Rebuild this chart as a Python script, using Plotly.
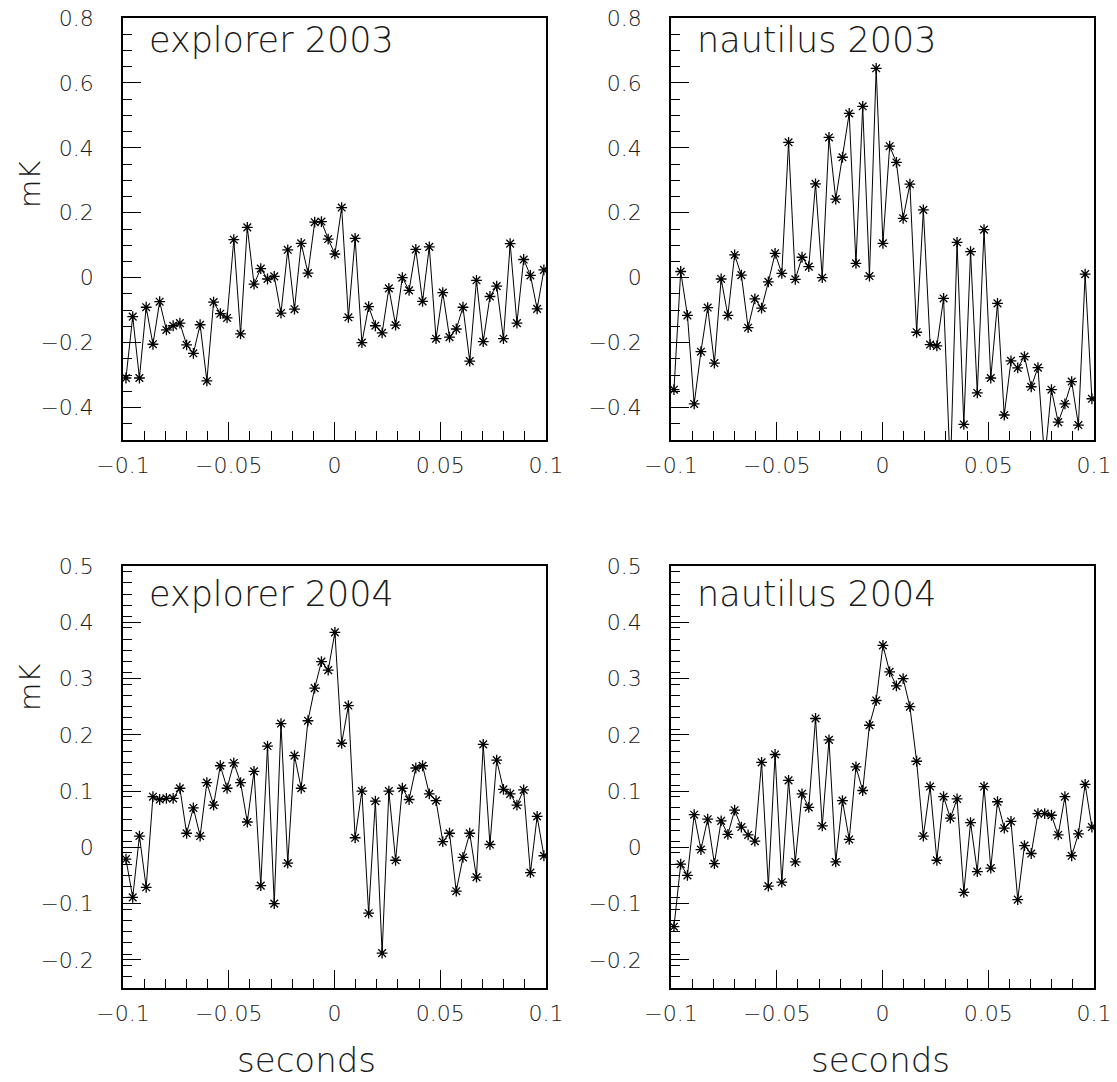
import numpy as np
import plotly.graph_objects as go

# ---- data ----
times = np.round(np.linspace(-0.0986, 0.0990, 63), 5)

explorer_2003 = [-0.309, -0.12, -0.309, -0.091, -0.205, -0.074, -0.161, -0.148, -0.14, -0.207,
                 -0.233, -0.145, -0.318, -0.075, -0.111, -0.124, 0.117, -0.173, 0.155, -0.02,
                 0.028, -0.004, 0.004, -0.109, 0.086, -0.097, 0.106, 0.014, 0.171, 0.173,
                 0.119, 0.073, 0.216, -0.122, 0.121, -0.2, -0.089, -0.148, -0.17, -0.033,
                 -0.146, 0.0, -0.039, 0.087, -0.073, 0.095, -0.188, -0.046, -0.183, -0.158,
                 -0.091, -0.257, -0.008, -0.197, -0.058, -0.026, -0.188, 0.105, -0.14, 0.056,
                 0.007, -0.096, 0.024]

nautilus_2003 = [-0.345, 0.019, -0.116, -0.389, -0.228, -0.092, -0.263, -0.004, -0.116, 0.07,
                 0.008, -0.154, -0.065, -0.094, -0.013, 0.075, 0.013, 0.417, -0.005, 0.063,
                 0.034, 0.289, 0.0, 0.432, 0.242, 0.371, 0.506, 0.044, 0.528, 0.005,
                 0.645, 0.106, 0.405, 0.355, 0.183, 0.288, -0.168, 0.209, -0.206, -0.21,
                 -0.064, -0.6, 0.109, -0.452, 0.08, -0.355, 0.148, -0.309, -0.079, -0.423,
                 -0.256, -0.278, -0.243, -0.336, -0.277, -0.56, -0.345, -0.445, -0.389, -0.32,
                 -0.454, 0.011, -0.373]

explorer_2004 = [-0.021, -0.089, 0.02, -0.071, 0.09, 0.085, 0.087, 0.087, 0.105, 0.025,
                 0.07, 0.02, 0.115, 0.075, 0.145, 0.105, 0.15, 0.115, 0.045, 0.135,
                 -0.068, 0.18, -0.1, 0.22, -0.028, 0.163, 0.105, 0.225, 0.283, 0.33,
                 0.315, 0.382, 0.185, 0.252, 0.017, 0.1, -0.117, 0.082, -0.188, 0.1,
                 -0.023, 0.105, 0.085, 0.141, 0.145, 0.095, 0.083, 0.01, 0.025, -0.078,
                 -0.018, 0.025, -0.053, 0.183, 0.005, 0.155, 0.103, 0.095, 0.075, 0.102,
                 -0.045, 0.055, -0.015]

nautilus_2004 = [-0.141, -0.03, -0.05, 0.058, -0.004, 0.05, -0.029, 0.047, 0.023, 0.066,
                 0.036, 0.022, 0.011, 0.151, -0.069, 0.165, -0.062, 0.119, -0.026, 0.095,
                 0.071, 0.229, 0.038, 0.191, -0.026, 0.083, 0.014, 0.143, 0.101, 0.217,
                 0.261, 0.359, 0.312, 0.287, 0.3, 0.25, 0.153, 0.02, 0.108, -0.023,
                 0.09, 0.052, 0.086, -0.08, 0.044, -0.043, 0.108, -0.037, 0.081, 0.034,
                 0.046, -0.093, 0.003, -0.011, 0.06, 0.06, 0.057, 0.022, 0.09, -0.015,
                 0.024, 0.112, 0.036]

titles = ["explorer 2003", "nautilus 2003", "explorer 2004", "nautilus 2004"]
series = [explorer_2003, nautilus_2003, explorer_2004, nautilus_2004]
x_tick_vals = [-0.1, -0.05, 0, 0.05, 0.1]


def fmt(v):
    if abs(v) < 1e-9:
        return "0"
    return ("\u2212" + f"{abs(v):g}") if v < 0 else f"{v:g}"


# ---- layout geometry ----
W, H = 1117, 1082
x_doms = [[123 / W, 546 / W], [671 / W, 1094 / W]]
y_doms = [[1 - 440 / H, 1 - 18 / H], [1 - 988 / H, 1 - 566 / H]]
y_ranges = [[-0.5, 0.8], [-0.25, 0.5]]
y_major = [0.2, 0.1]
y_minor = [0.05, 0.02]
title_y_px = [40, 594]
mk_y_px = [185, 688]
seconds_x_px = [306, 880]

FONT = "DejaVu Sans"
TXT = "#1a1a1a"
WT = 200

fig = go.Figure()
layout = dict(width=W, height=H, margin=dict(l=0, r=0, t=0, b=0, autoexpand=False),
              paper_bgcolor="white", plot_bgcolor="white", showlegend=False,
              font=dict(family=FONT, color=TXT, size=22, weight=WT))
annotations = []

for i in range(4):
    row, col = divmod(i, 2)
    n = "" if i == 0 else str(i + 1)
    fig.add_trace(go.Scatter(
        x=times, y=series[i], mode="lines+markers", xaxis="x" + n, yaxis="y" + n,
        line=dict(color="black", width=1),
        marker=dict(symbol="asterisk", size=9, color="black",
                    line=dict(color="black", width=1.3)),
        hoverinfo="skip"))
    common = dict(showline=True, linecolor="black", linewidth=1.5, mirror=True,
                  ticks="inside", ticklen=18, tickwidth=1, tickcolor="black",
                  showgrid=False, zeroline=False, automargin=False,
                  tickfont=dict(family=FONT, size=22, color=TXT, weight=WT))
    yr = y_ranges[row]
    ymaj = [float(v) for v in np.round(np.arange(-1.0, 1.0 + 1e-9, y_major[row]), 4)
            if yr[0] - 1e-9 <= v <= yr[1] + 1e-9]
    layout["xaxis" + n] = dict(
        common, domain=x_doms[col], range=[-0.1, 0.1], anchor="y" + n,
        tickmode="array", tickvals=x_tick_vals,
        ticktext=[fmt(v) for v in x_tick_vals],
        ticklabelstandoff=5,
        minor=dict(ticks="inside", ticklen=9, tickwidth=1, tickcolor="black",
                   tickmode="linear", tick0=-0.1, dtick=0.01, showgrid=False))
    layout["yaxis" + n] = dict(
        common, domain=y_doms[row], range=yr, anchor="x" + n,
        tickmode="array", tickvals=ymaj,
        ticktext=[fmt(v) for v in ymaj],
        ticklabelstandoff=23,
        minor=dict(ticks="inside", ticklen=9, tickwidth=1, tickcolor="black",
                   tickmode="linear", tick0=yr[0], dtick=y_minor[row], showgrid=False))
    # panel title
    annotations.append(dict(
        text=titles[i], xref="paper", yref="paper",
        x=(x_doms[col][0] * W + 24) / W,
        y=1 - title_y_px[row] / H,
        xanchor="left", yanchor="middle", showarrow=False,
        font=dict(family=FONT, size=35, color=TXT, weight=WT)))

# axis titles
for row in range(2):
    annotations.append(dict(
        text="mK", xref="paper", yref="paper",
        x=30 / W, y=1 - mk_y_px[row] / H,
        xanchor="center", yanchor="middle", textangle=-90, showarrow=False,
        font=dict(family=FONT, size=29, color=TXT, weight=WT)))
for col in range(2):
    annotations.append(dict(
        text="seconds", xref="paper", yref="paper",
        x=seconds_x_px[col] / W, y=1 - 1060 / H,
        xanchor="center", yanchor="middle", showarrow=False,
        font=dict(family=FONT, size=34, color=TXT, weight=WT)))

layout["annotations"] = annotations
fig.update_layout(**layout)
fig.write_html("out.html")
